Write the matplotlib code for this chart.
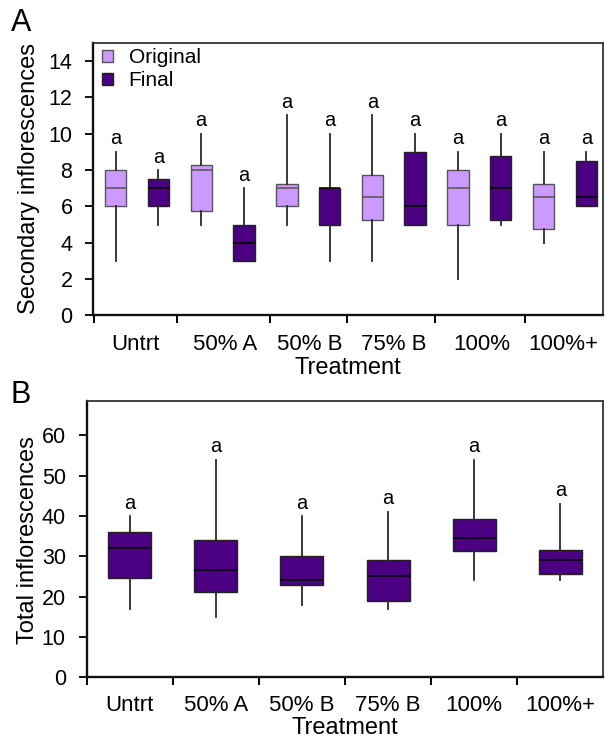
import matplotlib
matplotlib.use("Agg")
import matplotlib.pyplot as plt
from matplotlib.patches import Patch
import numpy as np

plt.rcParams['font.family'] = ['Liberation Sans', 'DejaVu Sans']

# ---------------------------------------------------------------
# Data
# ---------------------------------------------------------------
treatments = ['Untrt', '50% A', '50% B', '75% B', '100%', '100%+']

# Panel A - secondary inflorescences, original vs final
orig_lo = [3, 5, 5, 3, 2, 4]
orig_q1 = [6, 5.75, 6, 5.25, 5, 4.75]
orig_med = [7, 8, 7, 6.5, 7, 6.5]
orig_q3 = [8, 8.25, 7.25, 7.75, 8, 7.25]
orig_hi = [9, 10, 11, 11, 9, 9]

final_lo = [5, 3, 3, 5, 5, 6]
final_q1 = [6, 3, 5, 5, 5.25, 6]
final_med = [7, 4, 7, 6, 7, 6.5]
final_q3 = [7.5, 5, 7, 9, 8.75, 8.5]
final_hi = [8, 7, 10, 10, 10, 9]

# Panel B - total inflorescences
tot_lo = [17, 15, 18, 17, 24, 24]
tot_q1 = [24.5, 21.2, 23, 19, 31.2, 25.5]
tot_med = [32, 26.5, 24, 25, 34.5, 29]
tot_q3 = [36, 34, 30, 29, 39.3, 31.6]
tot_hi = [40, 54, 40, 41, 54, 43]

letters_a = ['a'] * 12
letters_b = ['a'] * 6

light = '#CC99FF'
dark = '#4B0082'


def make_stats(lo, q1, med, q3, hi):
    return [dict(whislo=a, q1=b, med=c, q3=d, whishi=e, fliers=[])
            for a, b, c, d, e in zip(lo, q1, med, q3, hi)]


def draw(ax, stats, positions, color, edge, medcol):
    ax.bxp(stats, positions=positions, widths=0.5, showcaps=False,
           showfliers=False, patch_artist=True,
           boxprops=dict(facecolor=color, edgecolor=edge, linewidth=1.0),
           medianprops=dict(color=medcol, linewidth=1.1),
           whiskerprops=dict(color='#2a2a2a', linewidth=1.3))


def style(ax):
    for s in ['left', 'bottom']:
        ax.spines[s].set_linewidth(1.7)
        ax.spines[s].set_color('#111111')
    for s in ['top', 'right']:
        ax.spines[s].set_linewidth(1.3)
        ax.spines[s].set_color('#333333')
    ax.tick_params(axis='y', direction='out', length=6, width=1.3,
                   labelsize=15.5, pad=9, right=False)
    ax.tick_params(axis='x', which='major', length=0, labelsize=16, pad=13)
    ax.tick_params(axis='x', which='minor', direction='out', length=6,
                   width=1.4)
    ax.tick_params(top=False, which='both')


fig = plt.figure(figsize=(6.05, 7.38), dpi=100)

# ---------------- Panel A ----------------
axA = fig.add_axes([0.1542, 0.5725, 0.8425, 0.3696])
pos_orig = np.arange(len(treatments)) * 2 + 1
pos_final = np.arange(len(treatments)) * 2 + 2
draw(axA, make_stats(orig_lo, orig_q1, orig_med, orig_q3, orig_hi),
     pos_orig, light, '#555555', '#555555')
draw(axA, make_stats(final_lo, final_q1, final_med, final_q3, final_hi),
     pos_final, dark, '#222222', 'black')

for p, h, t in zip(np.concatenate([pos_orig, pos_final]),
                   orig_hi + final_hi, letters_a):
    axA.annotate(t, (p, h), xytext=(0, 2.5), textcoords='offset points',
                 ha='center', va='bottom', fontsize=14.5)

axA.set_xlim(0.477, 12.39)
axA.set_ylim(0, 15)
axA.set_yticks(np.arange(0, 15, 2))
axA.set_xticks([1.46, 3.55, 5.53, 7.5, 9.55, 11.47])
axA.set_xticklabels(treatments)
axA.set_xticks([0.49, 2.43, 4.61, 6.41, 8.46, 10.56], minor=True)
style(axA)
axA.set_xlabel('Treatment', fontsize=17, labelpad=2)

handles = [Patch(facecolor=light, edgecolor='#555555', label='Original'),
           Patch(facecolor=dark, edgecolor='#222222', label='Final')]
axA.legend(handles=handles, loc='upper left', bbox_to_anchor=(0.018, 0.98),
           frameon=False, fontsize=15, handlelength=0.5, handleheight=0.5,
           handletextpad=0.75, labelspacing=0.2, borderpad=0,
           borderaxespad=0)

fig.text(29 / 605, 1 - 179 / 738, 'Secondary inflorescences', rotation=90,
         ha='center', va='center', fontsize=17)
fig.text(21 / 605, 1 - 23 / 738, 'A', ha='center', va='center', fontsize=22)

# ---------------- Panel B ----------------
axB = fig.add_axes([0.1433, 0.0823, 0.8539, 0.3748])
pos_tot = np.arange(len(treatments)) + 1
draw(axB, make_stats(tot_lo, tot_q1, tot_med, tot_q3, tot_hi),
     pos_tot, dark, '#222222', 'black')
for p, h, t in zip(pos_tot, tot_hi, letters_b):
    axB.annotate(t, (p, h), xytext=(0, 2.5), textcoords='offset points',
                 ha='center', va='bottom', fontsize=14.5)

axB.set_xlim(0.5, 6.5)
axB.set_ylim(0, 68.6)
axB.set_yticks(np.arange(0, 61, 10))
axB.set_xticks(pos_tot)
axB.set_xticklabels(treatments)
axB.set_xticks(np.arange(0.5, 6.5, 1.0), minor=True)
style(axB)
axB.set_xlabel('Treatment', fontsize=17, labelpad=0.8)

fig.text(28.5 / 605, 1 - 540 / 738, 'Total inflorescences', rotation=90,
         ha='center', va='center', fontsize=17)
fig.text(21 / 605, 1 - 395 / 738, 'B', ha='center', va='center', fontsize=22)

fig.savefig('out.png', dpi=100)
